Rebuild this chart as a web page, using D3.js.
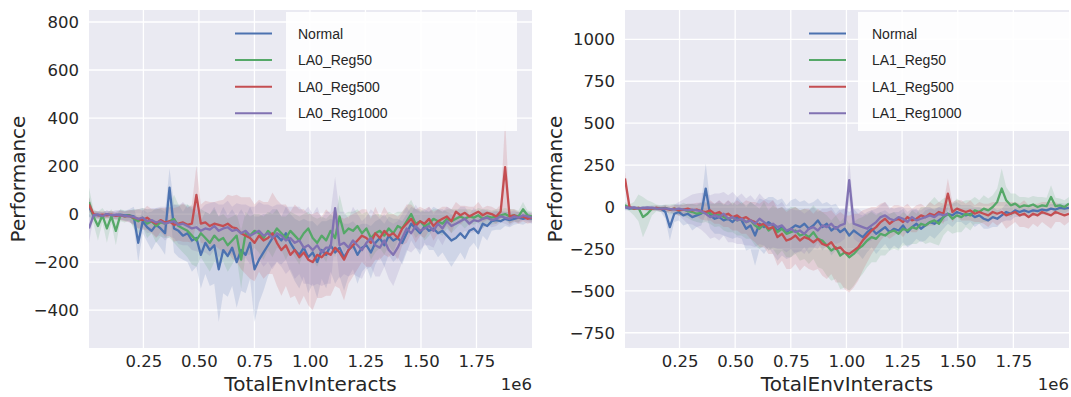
<!DOCTYPE html>
<html><head><meta charset="utf-8">
<script src="https://cdn.jsdelivr.net/npm/d3@7"></script>
<style>body{margin:0;background:#fff}</style>
</head><body>
<svg id="c" width="1071" height="397"></svg>
<script>
// ---- data ----
const X_START = 5000, X_STEP = 20150, N = 100;
const xs = d3.range(N).map(i => X_START + i * X_STEP);
const xTicks = [250000, 500000, 750000, 1000000, 1250000, 1500000, 1750000];
const xTickLabels = ["0.25", "0.50", "0.75", "1.00", "1.25", "1.50", "1.75"];
const leftYTicks = [-400, -200, 0, 200, 400, 600, 800];
const rightYTicks = [-750, -500, -250, 0, 250, 500, 750, 1000];
const leftNames = ["Normal", "LA0_Reg50", "LA0_Reg500", "LA0_Reg1000"];
const rightNames = ["Normal", "LA1_Reg50", "LA1_Reg500", "LA1_Reg1000"];
const colors = ["#4C72B0", "#55A868", "#C44E52", "#8172B2"];

// Left panel means
const L_normal = [30,-5,-3,-8,0,-5,-4,-2,-6,-5, -10,-120,-30,-55,-70,-45,-60,-80,110,-60,
 -70,-90,-80,-110,-100,-170,-120,-150,-130,-230, -150,-175,-140,-200,-150,-170,-120,-230,-190,-160,
 -130,-100,-90,-110,-80,-120,-150,-170,-140,-180, -160,-200,-150,-170,-130,-160,-140,-180,-150,-130,
 -170,-140,-130,-160,-120,-100,-130,-90,-110,-100, -120,-80,-40,-60,-80,-50,-70,-60,-80,-70,
 -90,-110,-100,-80,-100,-70,-60,-80,-40,-50, -30,-25,-30,-20,-25,-20,-15,-20,-15,-20];
const L_reg50 = [50,-10,-50,-5,-60,-10,-70,-5,-10,-5, -20,-30,-15,-40,-30,-50,-35,-40,-30,-20,
 -50,-60,-70,-90,-110,-80,-100,-120,-90,-110, -100,-130,-110,-90,-190,-80,-90,-70,-80,-100,
 -70,-90,-60,-80,-100,-70,-90,-110,-80,-60, -100,-120,-90,-110,-70,-100,-10,-80,-60,-70,
 -50,-80,-60,-100,-80,-70,-90,-60,-80,-50, -60,-30,0,-40,-30,-50,-40,-20,-30,-40,
 -20,-30,-20,-10,-20,-10,-15,-5,-20,-10, -15,-10,-5,0,-10,-5,-10,20,-5,-10];
const L_reg500 = [40,0,-5,-3,-5,-2,-8,-5,-10,-8, -15,-20,-25,-15,-30,-40,-25,-35,-30,-45,
 -40,-35,-45,-40,80,-40,-35,-50,-40,-45, -50,-40,-55,-60,-80,-90,-100,-120,-90,-110,
 -100,-80,-120,-150,-130,-170,-150,-180,-160,-190, -200,-170,-180,-160,-170,-140,-160,-190,-150,-130,
 -110,-90,-100,-120,-80,-100,-70,-90,-80,-100, -60,-40,-20,-50,-30,-40,-20,-50,-30,-20,
 -10,-30,10,-5,5,-10,0,10,-5,5, 0,-10,10,195,-10,-5,-15,-10,-20,-15];
const L_reg1000 = [-60,-5,-2,-8,0,-5,-3,-5,-8,-10, -12,-20,-15,-30,-25,-35,-30,-40,-35,-30,
 -45,-40,-50,-60,-55,-70,-60,-65,-50,-70, -60,-55,-70,-65,-80,-70,-90,-80,-70,-90,
 -80,-100,-80,-90,-110,-100,-120,-110,-140,-130, -150,-130,-160,-140,-140,25,-130,-120,-140,-110,
 -130,-150,-120,-100,-130,-140,-110,-150,-170,-140, -100,-60,-80,-50,-70,-60,-50,-70,-40,-60,
 -30,-50,-40,-30,-20,-40,-25,-30,-20,-15, -25,-20,-10,-15,-20,-10,-15,-5,-10,-15];

// Left panel band half-widths
const L_normal_sd = [40,15,15,15,15,15,15,20,20,25, 40,80,50,60,80,70,80,90,80,100,
 110,100,120,130,120,140,130,150,160,220, 180,170,160,190,170,160,150,220,180,160,
 130,120,110,100,110,120,130,140,120,150, 130,150,120,140,110,130,120,140,110,100,
 120,100,90,110,90,80,90,80,90,80, 90,80,70,80,90,70,80,90,100,90,
 100,110,90,80,90,70,60,70,50,60, 40,40,35,30,30,25,25,25,20,20];
const L_reg50_sd = [60,30,60,30,60,30,60,25,25,20, 40,50,40,60,50,70,60,60,70,100,
 90,100,110,120,110,100,110,120,110,100, 100,110,100,90,120,90,80,70,80,90,
 80,90,80,70,90,80,90,100,80,70, 90,100,80,90,70,80,90,80,70,80,
 70,80,70,90,80,70,80,70,80,60, 70,60,60,60,50,60,50,40,50,50,
 40,50,40,30,40,30,30,30,40,30, 30,30,25,25,30,25,25,30,20,20];
const L_reg500_sd = [30,15,15,15,15,15,15,20,20,25, 30,40,40,50,50,60,50,60,60,70,
 70,80,70,80,120,80,90,100,90,100, 110,120,130,140,150,160,170,160,150,160,
 150,170,180,190,170,180,190,200,180,190, 200,180,170,180,170,160,150,170,140,130,
 120,110,120,100,110,90,100,90,80,90, 70,80,60,70,60,60,50,60,50,50,
 40,50,40,40,30,40,30,40,30,30, 30,30,30,200,30,25,25,20,20,20];
const L_reg1000_sd = [60,15,15,15,15,15,20,20,20,25, 30,40,40,50,50,60,60,70,60,70,
 80,90,80,90,100,90,100,110,100,110, 100,110,100,110,120,110,120,110,120,130,
 120,130,120,130,140,130,150,140,150,160, 150,160,140,150,150,130,140,130,120,140,
 130,120,110,120,130,120,110,120,130,110, 100,90,80,90,80,70,80,70,60,70,
 60,70,50,60,50,40,50,40,40,30, 30,30,25,25,30,25,20,20,20,20];

// Right panel means
const R_normal = [0,-10,-5,-8,-5,-10,-5,-8,-10,-30, -120,-40,-30,-50,-40,-60,-50,-40,110,-50,
 -70,-60,-80,-70,-90,-60,-80,-130,-110,-170, -100,-120,-90,-110,-140,-120,-150,-130,-110,-120,
 -100,-130,-110,-80,-120,-100,-140,-120,-150,-130, -170,-140,-160,-180,-150,-130,-160,-140,-120,-150,
 -130,-140,-110,-150,-120,-100,-130,-110,-90,-100, -80,-60,-40,-50,-30,-40,-50,-40,-60,-50,
 -70,-80,-60,-70,-50,-30,-40,-20,-30,-20, -30,-20,-25,-15,-20,-10,-15,-5,-10,-5];
const R_reg50 = [10,-5,-10,-5,-60,-40,-10,-5,-10,-5, -15,-10,-20,-15,-25,-30,-40,-35,-30,-40,
 -50,-45,-60,-70,-60,-80,-70,-90,-80,-110, -130,-100,-140,-120,-150,-130,-160,-150,-140,-170,
 -160,-180,-150,-190,-200,-230,-260,-240,-290,-270, -300,-280,-250,-230,-200,-180,-190,-160,-170,-150,
 -140,-160,-130,-140,-120,-130,-100,-110,-90,-80, -100,-60,-40,-70,-50,-60,-40,-50,-20,-30,
 -10,-20,0,30,110,40,10,20,0,10, 5,15,0,10,5,60,5,10,0,20];
const R_reg500 = [170,0,-10,-5,-10,-8,-10,-5,-12,-10, -15,-10,-20,-15,-10,-20,-15,-25,-30,-20,
 -40,-30,-50,-40,-60,-50,-70,-60,-80,-90, -110,-100,-130,-120,-180,-160,-200,-190,-170,-200,
 -180,-190,-210,-190,-220,-230,-210,-250,-240,-270, -280,-260,-240,-200,-170,-140,-120,-90,-70,-100,
 -80,-70,-90,-60,-80,-70,-50,-60,-40,-50, -30,-40,80,-30,-10,-20,-30,-20,-40,-30,
 -40,-50,-30,-40,-30,-50,-40,-30,-50,-40, -60,-40,-50,-30,-40,-50,-30,-40,-50,-40];
const R_reg1000 = [0,-5,-3,-8,-5,-3,-5,-8,-10,-8, -12,-15,-10,-15,-20,-15,-20,-25,-40,-60,
 -50,-60,-40,-70,-60,-80,-70,-90,-80,-100, -70,-90,-110,-100,-120,-110,-140,-130,-150,-140,
 -160,-130,-120,-140,-110,-120,-100,-130,-110,-100, 160,-100,-110,-120,-130,-110,-90,-60,-50,-70,
 -80,-60,-70,-90,-60,-80,-70,-60,-50,-60, -40,-50,-40];

// Right panel band half-widths
const R_normal_sd = [20,10,10,10,10,15,15,15,20,40, 80,50,50,60,60,80,70,70,150,80,
 90,100,90,110,100,120,110,130,140,180, 150,160,150,170,180,170,160,170,160,150,
 140,150,140,130,140,130,150,140,130,120, 140,130,120,130,120,110,120,110,100,110,
 100,110,100,90,100,90,80,90,80,90, 80,70,60,70,60,50,60,50,60,50,
 60,50,60,50,40,50,40,40,30,30, 30,30,30,30,30,30,30,30,30,30];
const R_reg50_sd = [20,20,40,80,120,80,40,20,20,20, 30,30,30,40,40,50,50,60,60,60,
 70,70,80,80,90,90,100,100,110,120, 120,130,120,130,140,130,140,150,140,150,
 150,160,160,170,170,180,180,190,200,210, 200,190,180,170,160,150,140,130,120,110,
 110,100,100,90,100,90,100,110,120,140, 130,110,100,90,100,90,80,90,80,70,
 80,70,70,80,120,80,70,60,60,50, 50,50,60,50,50,70,50,40,40,40];
const R_reg500_sd = [40,10,10,10,10,10,15,15,15,20, 20,20,30,30,30,40,40,50,50,60,
 60,70,70,80,80,90,90,100,110,120, 130,140,150,160,170,160,170,180,170,180,
 170,180,170,180,190,200,190,200,210,220, 230,220,200,180,160,140,120,110,100,90,
 90,80,90,80,70,80,70,60,70,60, 60,60,90,60,50,60,50,60,50,60,
 60,70,60,70,60,80,70,60,70,80, 70,60,70,60,70,80,60,50,60,50];
const R_reg1000_sd = [15,10,10,10,10,10,10,15,15,20, 20,30,40,60,80,90,100,110,120,130,
 130,140,130,140,150,140,150,140,150,140, 150,140,150,140,130,140,130,120,130,120,
 120,110,120,110,100,110,100,90,100,90, 120,90,100,90,80,90,80,70,80,70,
 70,60,70,60,50,60,50,60,50,40, 40,40,40];

// ---- drawing ----
const svg = d3.select("#c");
svg.append("rect").attr("width",1071).attr("height",397).attr("fill","#fff");

const panels = [
  {left:89, right:532, top:10, bottom:348, ydom:[-558,850], yticks:leftYTicks, names:leftNames,
   means:[L_normal,L_reg50,L_reg500,L_reg1000], sds:[L_normal_sd,L_reg50_sd,L_reg500_sd,L_reg1000_sd],
   lg:{l0:235,l1:272,bx:286,bw:231,tx:298}, ylabX:25},
  {left:625, right:1069, top:10, bottom:348, ydom:[-841,1175], yticks:rightYTicks, names:rightNames,
   means:[R_normal,R_reg50,R_reg500,R_reg1000], sds:[R_normal_sd,R_reg50_sd,R_reg500_sd,R_reg1000_sd],
   lg:{l0:809,l1:846,bx:858,bw:211,tx:872}, ylabX:562}
];

const fmtY = v => (v < 0 ? "\u2212" + Math.abs(v) : String(v));
const TICK_FS = 16.5, LABEL_FS = 20;

panels.forEach((p, pi) => {
  const x = d3.scaleLinear().domain([X_START, 2000000]).range([p.left, p.right]);
  const y = d3.scaleLinear().domain(p.ydom).range([p.bottom, p.top]);
  const g = svg.append("g");
  const cid = "clip" + pi;
  svg.append("clipPath").attr("id", cid).append("rect")
    .attr("x", p.left).attr("y", p.top).attr("width", p.right - p.left).attr("height", p.bottom - p.top);

  g.append("rect").attr("x", p.left).attr("y", p.top)
    .attr("width", p.right - p.left).attr("height", p.bottom - p.top).attr("fill", "#EAEAF2");

  // grid
  g.append("g").selectAll("line").data(xTicks).join("line")
    .attr("x1", d => x(d)).attr("x2", d => x(d)).attr("y1", p.top).attr("y2", p.bottom)
    .attr("stroke", "#fff").attr("stroke-width", 1.3);
  g.append("g").selectAll("line").data(p.yticks).join("line")
    .attr("y1", d => y(d)).attr("y2", d => y(d)).attr("x1", p.left).attr("x2", p.right)
    .attr("stroke", "#fff").attr("stroke-width", 1.3);

  // axes via d3
  const xAxis = d3.axisBottom(x).tickValues(xTicks).tickFormat((d, i) => xTickLabels[i]).tickSize(0).tickPadding(7);
  const gx = svg.append("g").attr("transform", `translate(0,${p.bottom})`).call(xAxis);
  gx.select(".domain").remove();
  gx.selectAll("text").attr("font-family", "DejaVu Sans").attr("font-size", TICK_FS).attr("fill", "#262626");

  const yAxis = d3.axisLeft(y).tickValues(p.yticks).tickFormat(fmtY).tickSize(0).tickPadding(10);
  const gy = svg.append("g").attr("transform", `translate(${p.left},0)`).call(yAxis);
  gy.select(".domain").remove();
  gy.selectAll("text").attr("font-family", "DejaVu Sans").attr("font-size", TICK_FS).attr("fill", "#262626");

  // series
  const plot = g.append("g").attr("clip-path", `url(#${cid})`);
  p.means.forEach((m, si) => {
    const sd = p.sds[si];
    const pts = m.map((v, i) => ({x: xs[i], v: v, s: sd[i]}));
    const area = d3.area().x(d => x(d.x)).y0(d => y(d.v - d.s)).y1(d => y(d.v + d.s)).curve(d3.curveLinear);
    plot.append("path").attr("d", area(pts)).attr("fill", colors[si]).attr("fill-opacity", 0.17);
  });
  p.means.forEach((m, si) => {
    const pts = m.map((v, i) => ({x: xs[i], v: v}));
    const line = d3.line().x(d => x(d.x)).y(d => y(d.v));
    plot.append("path").attr("d", line(pts)).attr("fill", "none")
      .attr("stroke", colors[si]).attr("stroke-width", 2.3).attr("stroke-linejoin", "round");
  });

  // labels
  svg.append("text").attr("x", (p.left + p.right) / 2).attr("y", 391).attr("text-anchor", "middle")
    .attr("font-family", "DejaVu Sans").attr("font-size", LABEL_FS).attr("fill", "#262626").text("TotalEnvInteracts");
  svg.append("text").attr("x", p.right).attr("y", 390).attr("text-anchor", "end")
    .attr("font-family", "DejaVu Sans").attr("font-size", TICK_FS).attr("fill", "#262626").text("1e6");
  svg.append("text").attr("transform", `translate(${p.ylabX},${(p.top + p.bottom) / 2}) rotate(-90)`)
    .attr("text-anchor", "middle").attr("font-family", "DejaVu Sans").attr("font-size", LABEL_FS)
    .attr("fill", "#262626").text("Performance");

  // legend
  const lg = svg.append("g");
  lg.append("rect").attr("x", p.lg.bx).attr("y", 12).attr("width", p.lg.bw).attr("height", 119)
    .attr("fill", "#fff").attr("fill-opacity", 0.9);
  p.names.forEach((n, i) => {
    const yy = 33.5 + i * 26.6;
    lg.append("line").attr("x1", p.lg.l0).attr("x2", p.lg.l1).attr("y1", yy).attr("y2", yy)
      .attr("stroke", colors[i]).attr("stroke-width", 2);
    lg.append("text").attr("x", p.lg.tx).attr("y", yy + 5).attr("font-family", "Liberation Sans")
      .attr("font-size", 14).attr("fill", "#262626").text(n);
  });
});
</script>
</body></html>
